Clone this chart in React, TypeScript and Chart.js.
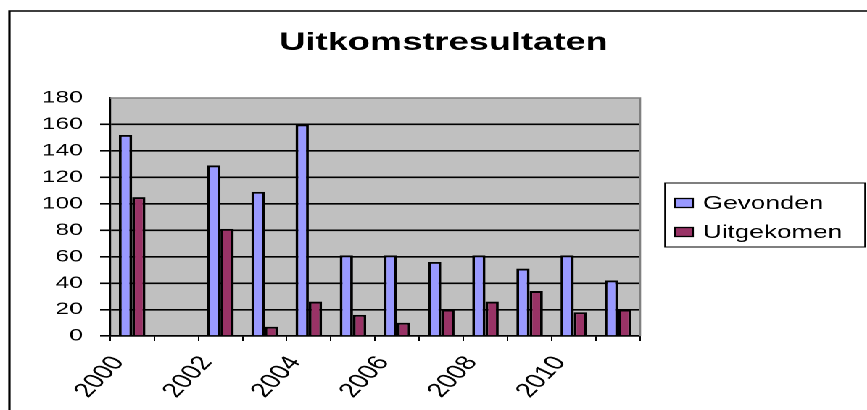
import React, { useEffect, useRef } from "react";
import { Chart, registerables } from "chart.js";

Chart.register(...registerables);

const years = ["2000", "2001", "2002", "2003", "2004", "2005", "2006", "2007", "2008", "2009", "2010", "2011"];
const shownYearLabels = ["2000", "2002", "2004", "2006", "2008", "2010"];
const gevonden = [152, null, 129, 109, 160, 61, 61, 56, 61, 51, 61, 42];
const uitgekomen = [105, null, 81, 7, 26, 16, 10, 20, 26, 34, 18, 20];
const titleText = "Uitkomstresultaten";
const seriesNames = ["Gevonden", "Uitgekomen"];
const seriesColors = ["#9999FF", "#993366"];

const STRETCH = 1.45;
const W = 598;
const H = 410;
const FONT = "'Liberation Sans', Arial, sans-serif";

const decorPlugin = {
  id: "excelDecor",
  beforeDraw(chart: any) {
    const { ctx, chartArea } = chart;
    ctx.save();
    ctx.fillStyle = "#FFFFFF";
    ctx.fillRect(0, 0, chart.width, chart.height);
    ctx.fillStyle = "#C0C0C0";
    ctx.fillRect(chartArea.left, chartArea.top, chartArea.right - chartArea.left, chartArea.bottom - chartArea.top);
    ctx.restore();
  },
  afterDraw(chart: any) {
    const { ctx, chartArea } = chart;
    ctx.save();
    // plot area border (top & right) in grey
    ctx.strokeStyle = "#808080";
    ctx.lineWidth = 1.5;
    ctx.beginPath();
    ctx.moveTo(chartArea.left, chartArea.top);
    ctx.lineTo(chartArea.right, chartArea.top);
    ctx.lineTo(chartArea.right, chartArea.bottom);
    ctx.stroke();

    // outer frame (left & top)
    ctx.strokeStyle = "#000000";
    ctx.lineWidth = 1.6;
    ctx.beginPath();
    ctx.moveTo(6.5, H + 5);
    ctx.lineTo(6.5, 11);
    ctx.lineTo(W + 5, 11);
    ctx.stroke();

    // title
    ctx.fillStyle = "#000000";
    ctx.font = `bold 25px ${FONT}`;
    ctx.textAlign = "center";
    ctx.textBaseline = "alphabetic";
    ctx.fillText(titleText, 305.9, 50);

    // legend
    const lx = 458.6, ly = 183, lw = 138, lh = 64;
    ctx.lineWidth = 1;
    ctx.strokeStyle = "#000000";
    ctx.strokeRect(lx, ly, lw, lh);
    ctx.font = `18px ${FONT}`;
    ctx.textAlign = "left";
    ctx.textBaseline = "middle";
    const rows = [203, 232];
    seriesNames.forEach((name, i) => {
      const cy = rows[i];
      ctx.fillStyle = seriesColors[i];
      ctx.fillRect(465.5, cy - 4.5, 12.4, 9);
      ctx.strokeStyle = "#000000";
      ctx.lineWidth = 1.3;
      ctx.strokeRect(465.5, cy - 4.5, 12.4, 9);
      ctx.fillStyle = "#000000";
      ctx.fillText(name, 484.8, cy + 1);
    });
    ctx.restore();
  },
};

export default function App() {
  const canvasRef = useRef<HTMLCanvasElement | null>(null);

  useEffect(() => {
    document.body.style.margin = "0";
    document.body.style.overflow = "hidden";
    const canvas = canvasRef.current;
    if (!canvas) return;
    Chart.defaults.font.family = FONT;
    const chart = new Chart(canvas, {
      type: "bar",
      data: {
        labels: years,
        datasets: [
          {
            label: seriesNames[0],
            data: gevonden,
            backgroundColor: seriesColors[0],
            borderColor: "#000000",
            borderWidth: 1.9,
            categoryPercentage: 0.6,
            barPercentage: 1.0,
          },
          {
            label: seriesNames[1],
            data: uitgekomen,
            backgroundColor: seriesColors[1],
            borderColor: "#000000",
            borderWidth: 1.9,
            categoryPercentage: 0.6,
            barPercentage: 1.0,
          },
        ],
      },
      options: {
        responsive: false,
        animation: false,
        devicePixelRatio: 2,
        layout: { padding: { top: 98, left: 6, right: 156.6, bottom: 4 } },
        plugins: {
          legend: { display: false },
          title: { display: false },
          tooltip: { enabled: false },
        },
        scales: {
          x: {
            offset: true,
            afterFit: (scale: any) => {
              scale.height = 70;
            },
            border: { display: true, color: "#000000", width: 1.6 },
            grid: {
              display: true,
              offset: true,
              drawOnChartArea: false,
              drawTicks: true,
              tickLength: 5,
              color: "#000000",
              lineWidth: 1,
            },
            ticks: {
              autoSkip: false,
              minRotation: 55,
              maxRotation: 55,
              labelOffset: -9.5,
              padding: 11,
              color: "#000000",
              font: { size: 20, family: FONT },
              callback: function (_v: any, i: number) {
                const y = years[i];
                return shownYearLabels.includes(y) ? y : "";
              },
            },
          },
          y: {
            min: 0,
            max: 180,
            afterFit: (scale: any) => {
              scale.width = 69.9;
            },
            border: { display: true, color: "#000000", width: 1.6 },
            grid: {
              color: (c: any) => (c.tick && c.tick.value === 180 ? "rgba(0,0,0,0)" : "#000000"),
              lineWidth: 1.6,
              tickLength: 6.9,
              drawTicks: true,
            },
            ticks: {
              stepSize: 20,
              padding: 11.8,
              color: "#000000",
              font: { size: 17, family: FONT },
            },
          },
        },
      },
      plugins: [decorPlugin],
    });
    return () => chart.destroy();
  }, []);

  return (
    <div
      style={{
        position: "absolute",
        left: 0,
        top: 0,
        width: W,
        height: H,
        transform: `scaleX(${STRETCH})`,
        transformOrigin: "0 0",
        background: "#FFFFFF",
      }}
    >
      <canvas ref={canvasRef} width={W} height={H} style={{ display: "block" }} />
    </div>
  );
}
